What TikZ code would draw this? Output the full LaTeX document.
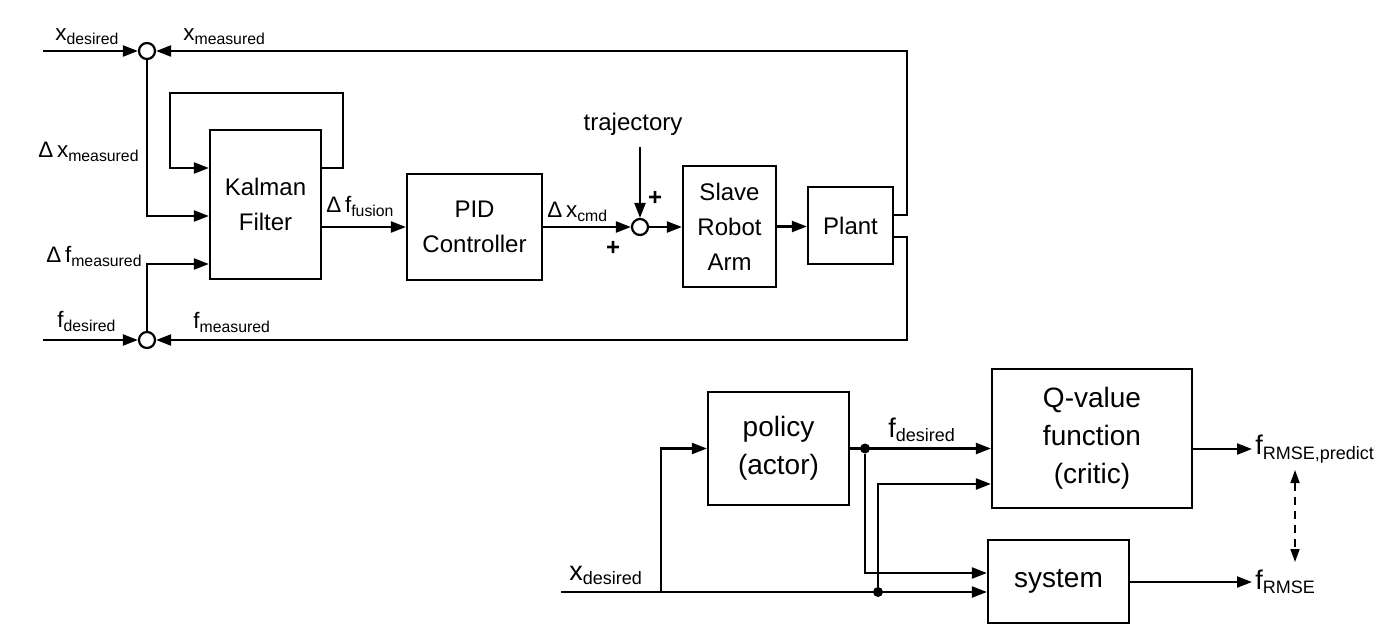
\documentclass[tikz,border=0pt]{standalone}
\usepackage{fontspec}
\setmainfont{Liberation Sans}
\usetikzlibrary{arrows.meta,calc}

% signal names with a lowered index
\newcommand{\sigs}[2]{#1\raisebox{-2pt}{\fontsize{7.9}{8}\selectfont #2}}
\newcommand{\sigl}[2]{#1\raisebox{-2.3pt}{\fontsize{9}{10}\selectfont #2}}

\begin{document}
\begin{tikzpicture}[x=0.5pt,y=-0.5pt,
    block/.style={draw, line width=1.1pt, align=center, inner sep=0pt},
    sumnode/.style={draw, circle, line width=1.1pt, minimum size=8pt, inner sep=0pt},
    dot/.style={circle, fill, inner sep=0pt, minimum size=5pt},
    arr/.style={line width=1.1pt, -{Triangle[length=7.5pt,width=5.5pt]}},
    toptext/.style={font=\fontsize{12}{17.5}\selectfont},
    toplabel/.style={anchor=base west, inner sep=0pt, font=\fontsize{11.2}{13}\selectfont},
    bottext/.style={font=\fontsize{14}{19}\selectfont},
    botlabel/.style={inner sep=1.5pt, font=\fontsize{13.5}{16}\selectfont}]
\useasboundingbox (0,0) rectangle (1384,627);

% ---- force / position control loop
\node[sumnode] (sumx) at (147,51) {};
\node[sumnode] (sumf) at (147,340) {};
\node[block, toptext, minimum width=55.5pt, minimum height=74.5pt] (kalman) at (265.5,204.5) {Kalman\\Filter};
\node[block, toptext, minimum width=67.5pt, minimum height=53pt] (pid) at (474.5,227) {PID\\Controller};
\node[sumnode] (sumt) at (640,227) {};
\node[block, toptext, minimum width=46.5pt, minimum height=60.5pt] (slave) at (729.5,226.5) {Slave\\Robot\\Arm};
\node[block, toptext, minimum width=42.5pt, minimum height=38.5pt] (plant) at (850.5,225.5) {Plant};

\coordinate (xin) at (43,51);
\coordinate (fin) at (43,340);
\coordinate (xr) at (907,51);
\coordinate (fr) at (907,340);
\coordinate (tin) at (640,147);

% inputs and feedback
\draw[arr] (xin) -- (sumx.west);
\draw[arr] (fin) -- (sumf.west);
\draw[arr] ([yshift=5.25pt]plant.east) -| (xr) -- (sumx.east);
\draw[arr] ([yshift=-5.75pt]plant.east) -| (fr) -- (sumf.east);

% into the filter
\draw[arr] (sumx.south) |- ([yshift=-5.75pt]kalman.west);
\draw[arr] (sumf.north) |- ([yshift=-29.75pt]kalman.west);
\draw[arr] ([yshift=18.25pt]kalman.east) -- ++(21,0) -- ++(0,-75) -- ++(-173,0) -- ++(0,75) -- ([yshift=18.25pt]kalman.west);

% forward path
\draw[arr] (kalman.east |- pid.west) -- (pid.west);
\draw[arr] (pid.east) -- (sumt.west);
\draw[arr] (tin) -- (sumt.north);
\draw[arr] (sumt.east) -- (sumt.east -| slave.west);
\draw[arr] (slave.east) -- (slave.east -| plant.west);

% labels
\node[toplabel] (lxd) at (55,40) {\sigs{x}{desired}};
\node[toplabel] (lxm) at (183,40) {\sigs{x}{measured}};
\node[toplabel] (ldxm) at (38,157) {Δ\,\sigs{x}{measured}};
\node[toplabel] (ldfm) at (46,262) {Δ\,\sigs{f}{measured}};
\node[toplabel] (lfd) at (57,327) {\sigs{f}{desired}};
\node[toplabel] (lfm) at (193,328) {\sigs{f}{measured}};
\node[toplabel] (ldff) at (326,212) {Δ\,\sigs{f}{fusion}};
\node[toplabel] (ldxc) at (547,217) {Δ\,\sigs{x}{cmd}};
\node[toptext] (traj) at (633,124) {trajectory};
\node[toptext, inner sep=0pt] (plus1) at (655,198) {\textbf{+}};
\node[toptext, inner sep=0pt] (plus2) at (613,248) {\textbf{+}};

% ---- actor / critic
\node[block, bottext, minimum width=70.5pt, minimum height=56.5pt] (policy) at (778.5,448.5) {policy\\(actor)};
\node[block, bottext, minimum width=100pt, minimum height=69.5pt] (qv) at (1092,438.5) {Q-value\\function\\(critic)};
\node[block, bottext, minimum width=70.5pt, minimum height=41.5pt] (sys) at (1058.5,581.5) {system};
\node[dot] (j1) at (865,448.5) {};
\node[dot] (j2) at (878,592) {};
\coordinate (xin2) at (561,592);
\coordinate (br) at (661,592);

\node[botlabel, anchor=base west] (lxd2) at (566,580) {\sigl{x}{desired}};
\node[botlabel, anchor=base west] (lfd2) at (885,437) {\sigl{f}{desired}};
\node[botlabel, anchor=west] (frp) at (1252,449) {\sigl{f}{RMSE,predict}};
\node[botlabel, anchor=west] (frm) at (1252,582) {\sigl{f}{RMSE}};

\draw[arr] (xin2) -- ([yshift=-5.25pt]sys.west);
\draw[arr] (br) |- (policy.west);
\draw[arr] (policy.east) -- (policy.east -| qv.west);
\draw[arr] (j1) |- ([yshift=4.25pt]sys.west);
\draw[arr] (j2) |- ([yshift=-22.75pt]qv.west);
\draw[arr] (qv.east |- frp.west) -- (frp.west);
\draw[arr] (sys.east |- frm.west) -- (frm.west);

\coordinate (dtop) at (1295,470);
\coordinate (dbot) at (1295,562);
\draw[line width=0.8pt, dash pattern=on 4pt off 3pt, {Triangle[length=6.5pt,width=4.5pt]}-{Triangle[length=6.5pt,width=4.5pt]}] (dtop) -- (dbot);
\end{tikzpicture}
\end{document}
